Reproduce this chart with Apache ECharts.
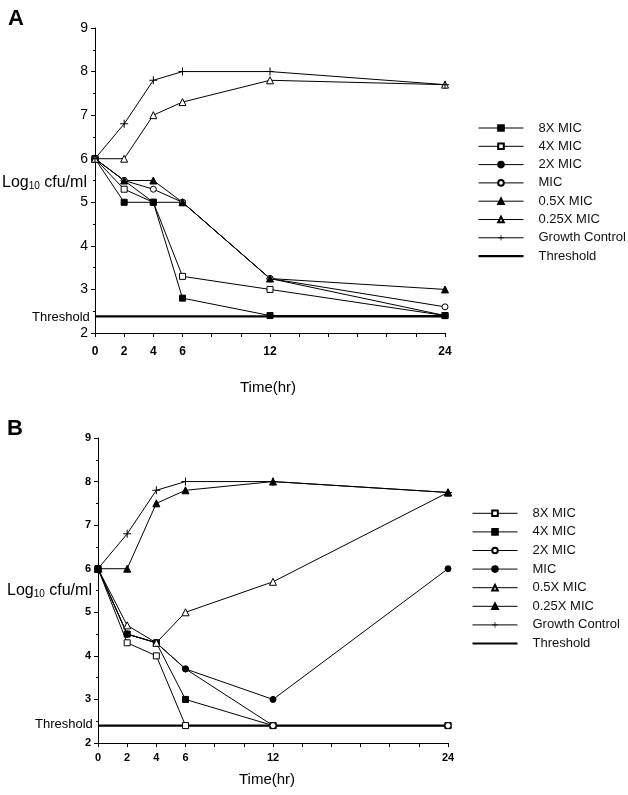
<!DOCTYPE html>
<html>
<head>
<meta charset="utf-8">
<script src="https://cdn.jsdelivr.net/npm/echarts@6/dist/echarts.min.js"></script>
<style>
html,body{margin:0;padding:0;background:#fff;}
#chart{width:628px;height:795px;}
</style>
</head>
<body>
<div id="chart"></div>
<script>
// ---------- data ----------
const hours = [0, 2, 4, 6, 12, 24];
const thresholdHours = [0, 24];
const xTickLabels = [0, 2, 4, 6, 12, 24];
const yTickLabels = [2, 3, 4, 5, 6, 7, 8, 9];

// Panel A
const a8x     = [6.0, 5.0, 5.0, 2.8, 2.4, 2.4];
const a4x     = [6.0, 5.3, 5.0, 3.3, 3.0, 2.4];
const a2x     = [6.0, 5.5, 5.0, 5.0, 3.25, 2.4];
const aMIC    = [6.0, 5.5, 5.3, 5.0, 3.25, 2.6];
const a05x    = [6.0, 5.5, 5.5, 5.0, 3.25, 3.0];
const a025x   = [6.0, 6.0, 7.0, 7.3, 7.8, 7.7];
const aGrowth = [6.0, 6.8, 7.8, 8.0, 8.0, 7.7];
const aThreshold = [2.38, 2.38];

// Panel B
const b8x     = [6.0, 4.3, 4.0, 2.4, 2.4, 2.4];
const b4x     = [6.0, 4.5, 4.3, 3.0, 2.4, 2.4];
const b2x     = [6.0, 4.5, 4.3, 3.7, 2.4, 2.4];
const bMIC    = [6.0, 4.5, 4.3, 3.7, 3.0, 6.0];
const b05x    = [6.0, 4.7, 4.3, 5.0, 5.7, 7.75];
const b025x   = [6.0, 6.0, 7.5, 7.8, 8.0, 7.75];
const bGrowth = [6.0, 6.8, 7.8, 8.0, 8.0, 7.75];
const bThreshold = [2.4, 2.4];

const legendNames = ['8X MIC','4X MIC','2X MIC','MIC','0.5X MIC','0.25X MIC','Growth Control','Threshold'];

// ---------- styles ----------
const FONT = 'Liberation Sans, Arial, Helvetica, sans-serif';
const PLUS = 'path://M3.5,0H4.5V8H3.5Z M0,3.5H8V4.5H0Z';
const THR_ICON = 'path://M0,0H45V2.2H0Z';
const mk = {
  fsq: {symbol:'rect', symbolSize:6, fill:'#000', bw:1},
  osq: {symbol:'rect', symbolSize:6, fill:'#fff', bw:1},
  fci: {symbol:'circle', symbolSize:6, fill:'#000', bw:1},
  oci: {symbol:'circle', symbolSize:6, fill:'#fff', bw:1},
  ftr: {symbol:'triangle', symbolSize:7, fill:'#000', bw:1},
  otr: {symbol:'triangle', symbolSize:7, fill:'#fff', bw:1},
  plus:{symbol:PLUS, symbolSize:8, fill:'#000', bw:0}
};

function pairs(xs, ys){ return xs.map((x,i)=>[x, ys[i]]); }

function lineSeries(prefix, name, vals, m, gi){
  return {
    type:'line', name: prefix + name, xAxisIndex:gi, yAxisIndex:gi,
    data: pairs(hours, vals),
    symbol: m.symbol, symbolSize: m.symbolSize, showAllSymbol:true,
    lineStyle:{color:'#000', width:1},
    itemStyle:{color:m.fill, borderColor:'#000', borderWidth:m.bw},
    emphasis:{disabled:true}, animation:false, z: 3
  };
}
function thrSeries(prefix, vals, gi){
  return {
    type:'line', name: prefix + 'Threshold', xAxisIndex:gi, yAxisIndex:gi,
    data: pairs(thresholdHours, vals), symbol:'none',
    lineStyle:{color:'#000', width:2.2},
    itemStyle:{color:'#000'},
    emphasis:{disabled:true}, animation:false, z: 2
  };
}

function xAxis(gi, fs, margin){
  return {
    type:'value', gridIndex:gi, min:0, max:24, interval:2,
    axisLine:{show:true, lineStyle:{color:'#000', width:1}},
    axisTick:{show:true, inside:false, length:4, lineStyle:{color:'#000'}},
    splitLine:{show:false},
    axisLabel:{color:'#000', fontFamily:FONT, fontWeight:'bold', fontSize:fs, margin:margin,
      formatter: v => xTickLabels.indexOf(v) >= 0 ? String(v) : ''}
  };
}
function yAxis(gi, fs, fw){
  return {
    type:'value', gridIndex:gi, min:2, max:9, interval:1,
    axisLine:{show:true, onZero:false, lineStyle:{color:'#000', width:1}},
    axisTick:{show:true, length:4, lineStyle:{color:'#000'}},
    minorTick:{show:true, splitNumber:2, length:2, lineStyle:{color:'#000'}},
    splitLine:{show:false},
    axisLabel:{color:'#000', fontFamily:FONT, fontSize:fs, fontWeight:fw, margin:7,
      formatter: v => yTickLabels.indexOf(v) >= 0 ? String(v) : ''}
  };
}

const series = [
  lineSeries('A:', '8X MIC', a8x, mk.fsq, 0),
  lineSeries('A:', '4X MIC', a4x, mk.osq, 0),
  lineSeries('A:', '2X MIC', a2x, mk.fci, 0),
  lineSeries('A:', 'MIC', aMIC, mk.oci, 0),
  lineSeries('A:', '0.5X MIC', a05x, mk.ftr, 0),
  lineSeries('A:', '0.25X MIC', a025x, mk.otr, 0),
  lineSeries('A:', 'Growth Control', aGrowth, mk.plus, 0),
  thrSeries('A:', aThreshold, 0),
  lineSeries('B:', '8X MIC', b8x, mk.osq, 1),
  lineSeries('B:', '4X MIC', b4x, mk.fsq, 1),
  lineSeries('B:', '2X MIC', b2x, mk.oci, 1),
  lineSeries('B:', 'MIC', bMIC, mk.fci, 1),
  lineSeries('B:', '0.5X MIC', b05x, mk.otr, 1),
  lineSeries('B:', '0.25X MIC', b025x, mk.ftr, 1),
  lineSeries('B:', 'Growth Control', bGrowth, mk.plus, 1),
  thrSeries('B:', bThreshold, 1)
];

function legend(prefix, left, top, gap){
  return {
    orient:'vertical', left:left, top:top, padding:0,
    itemWidth:45, itemHeight:7, itemGap:gap,
    selectedMode:false, inactiveColor:'#000',
    lineStyle:{width:1},
    data: legendNames.map(n => n === 'Threshold'
      ? {name: prefix + n, icon: THR_ICON}
      : prefix + n),
    formatter: n => n.slice(2),
    textStyle:{color:'#111', fontFamily:FONT, fontSize:13, padding:[0,0,0,10], lineHeight:14}
  };
}

function txt(left, top, text, fs, fw){
  return {type:'text', left:left, top:top, silent:true,
    style:{text:text, fill:'#000', font: (fw||'normal') + ' ' + fs + 'px ' + FONT}};
}
function logTitle(left, top){
  return {type:'text', left:left, top:top, silent:true,
    style:{text:'{a|Log}{b|10}{a| cfu/ml}',
      rich:{
        a:{fontFamily:FONT, fontSize:16, fill:'#000', color:'#000', verticalAlign:'bottom', lineHeight:18},
        b:{fontFamily:FONT, fontSize:10, fill:'#000', color:'#000', verticalAlign:'bottom', lineHeight:13}
      }}};
}

const chart = echarts.init(document.getElementById('chart'), null, {renderer:'canvas'});
chart.setOption({
  backgroundColor:'#fff',
  animation:false,
  grid:[
    {left:95, top:28, width:350, height:305},
    {left:98, top:438, width:350, height:305}
  ],
  xAxis:[xAxis(0, 12, 13), xAxis(1, 11, 9)],
  yAxis:[yAxis(0, 14, 'normal'), yAxis(1, 11, 'bold')],
  legend:[legend('A:', 478, 121, 4.3), legend('B:', 472, 506.3, 4.6)],
  series: series,
  graphic:[
    txt(8, 8, 'A', 22, 'bold'),
    txt(7, 418, 'B', 22, 'bold'),
    logTitle(2, 175),
    logTitle(7, 583),
    txt(32, 311, 'Threshold', 13, 'normal'),
    txt(35, 718, 'Threshold', 13, 'normal'),
    txt(240, 380, 'Time(hr)', 15, 'normal'),
    txt(239, 772, 'Time(hr)', 15, 'normal')
  ]
});
</script>
</body>
</html>
